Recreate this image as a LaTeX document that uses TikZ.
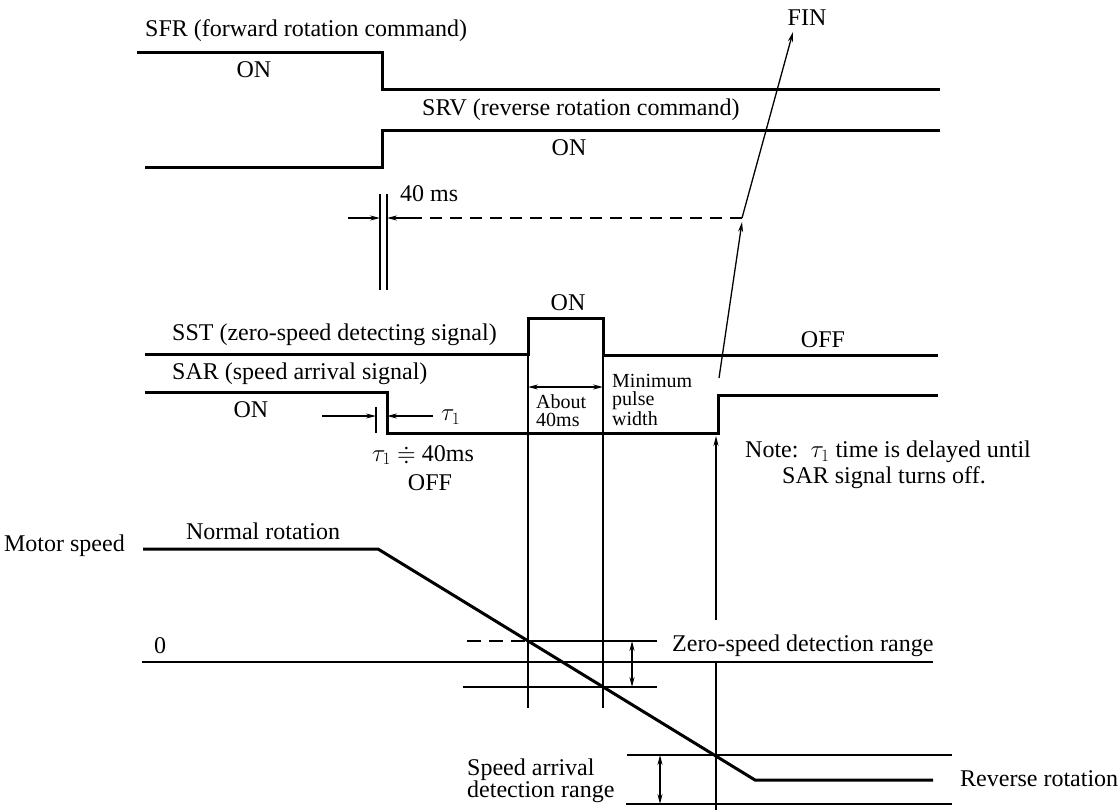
\documentclass[tikz,border=0pt]{standalone}
\usepackage{amssymb}
\usepackage{fontspec}
\setmainfont{Liberation Serif}
\usetikzlibrary{arrows.meta}
\begin{document}
\begin{tikzpicture}[x=1pt,y=-1pt,
  sig/.style={line width=3pt, line join=miter},
  thinln/.style={line width=1.3pt},
  lbl/.style={inner sep=0pt, font=\fontsize{24}{26}\selectfont},
  smalllbl/.style={inner sep=0pt, font=\fontsize{20}{18}\selectfont, align=left},
  arr/.style={thinln,-{Stealth[length=10pt,width=5pt]}},
  darr/.style={thinln,{Stealth[length=10pt,width=5pt]}-{Stealth[length=10pt,width=5pt]}},
]
\useasboundingbox (0,0) rectangle (1118,811);

% ---- signals
\draw[sig] (137,52) -- (382,52) -- (382,89) -- (940,89);
\draw[sig] (145,167) -- (382,167) -- (382,130) -- (940,130);
\draw[sig] (145,354) -- (528,354) -- (528,318) -- (603,318) -- (603,355) -- (938,355);
\draw[sig] (145,392) -- (387,392) -- (387,433) -- (718,433) -- (718,395) -- (938,395);
\draw[sig] (143,549) -- (378,549) -- (755,780) -- (933,780);

% ---- labels
\node[lbl,anchor=west] (sfr) at (145,31) {SFR (forward rotation command)};
\node[lbl] (sfron) at (254,70) {ON};
\node[lbl,anchor=west] (srv) at (422,110) {SRV (reverse rotation command)};
\node[lbl] (srvon) at (569,148) {ON};
\node[lbl,anchor=west] (ms40) at (400,194) {40 ms};
\node[lbl] (fin) at (807,18) {FIN};
\node[lbl] (sston) at (568,303) {ON};
\node[lbl,anchor=west] (sst) at (172,335) {SST (zero-speed detecting signal)};
\node[lbl] (sstoff) at (823,340) {OFF};
\node[lbl,anchor=west] (sar) at (172,374) {SAR (speed arrival signal)};
\node[lbl] (saron) at (251,410) {ON};
\node[lbl,anchor=west] (tau) at (441,417) {$\tau_1$};
\node[lbl] (taueq) at (423,455) {$\tau_1$ $\doteqdot$ 40ms};
\node[lbl] (saroff) at (430,483) {OFF};
\node[smalllbl,anchor=west] (about) at (536,411) {About\\40ms};
\node[smalllbl,anchor=west] (minpw) at (612,400) {Minimum\\pulse\\width};
\node[lbl,anchor=west,align=left,font=\fontsize{24}{26.5}\selectfont] (note) at (745,465)
  {Note:\ \ $\tau_1$\ time is delayed until\\\hspace*{37pt}SAR signal turns off.};
\node[lbl,anchor=east] (motor) at (125,546) {Motor speed};
\node[lbl] (normal) at (263,531) {Normal rotation};
\node[lbl] (zero) at (160,646) {0};
\node[lbl,anchor=west] (zsr) at (672,646) {Zero-speed detection range};
\node[lbl,anchor=west,align=left,font=\fontsize{24}{22}\selectfont] (sadr) at (467,781) {Speed arrival\\detection range};
\node[lbl,anchor=west] (rev) at (960,779) {Reverse rotation};

% ---- 40 ms marks
\coordinate (m1t) at (380,194); \coordinate (m1b) at (380,290);
\coordinate (m2t) at (387,194); \coordinate (m2b) at (387,290);
\draw[thinln] (m1t) -- (m1b);
\draw[thinln] (m2t) -- (m2b);
\coordinate (a40l) at (348,218); \coordinate (a40r) at (410,218);
\coordinate (dashend) at (742,218);
\draw[arr] (a40l) -- (380,218);
\draw[arr] (a40r) -- (387,218);
\draw[thinln,dash pattern=on 12pt off 8pt] (a40r) -- (dashend);

% ---- FIN arrows
\coordinate (finstart) at (719,378);
\coordinate (finmid) at (742,222);
\coordinate (fintip) at (793,32);
\draw[arr] (finstart) -- (finmid);
\draw[arr] (dashend) -- (fintip);

% ---- tau marks
\draw[thinln] (376,407) -- (376,433);
\draw[arr] (322,416) -- (376,416);
\draw[arr] (433,416) -- (387,416);

% ---- verticals from SST pulse
\draw[thinln] (528,354) -- (528,708);
\draw[thinln] (603,355) -- (603,708);
\draw[darr] (528,387) -- (603,387);

% ---- SAR rise arrow and vertical
\draw[arr] (716,620) -- (716,436);
\draw[thinln] (716,662) -- (716,810);

% ---- speed ranges
\draw[thinln] (142,662) -- (933,662);
\draw[thinln,dash pattern=on 14pt off 8pt] (467,641) -- (528,641);
\draw[thinln] (528,641) -- (657,641);
\draw[thinln] (463,687) -- (657,687);
\draw[darr] (632,641) -- (632,687);
\draw[thinln] (627,755) -- (952,755);
\draw[thinln] (626,804) -- (952,804);
\draw[darr] (660,755) -- (660,804);
\end{tikzpicture}
\end{document}
